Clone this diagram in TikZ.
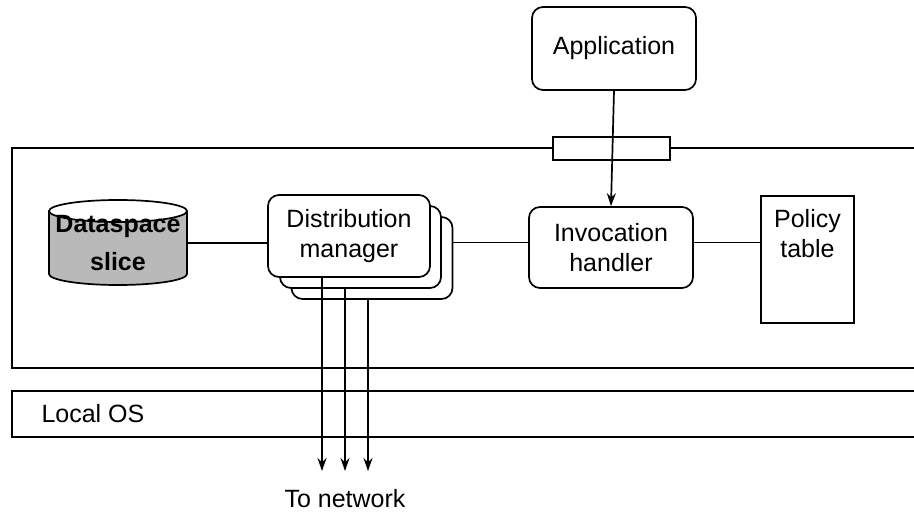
\documentclass[tikz,border=0pt]{standalone}
\usepackage{fontspec}
\setmainfont{Liberation Sans}
\usetikzlibrary{arrows.meta,calc}
\begin{document}
\begin{tikzpicture}[x=1pt,y=1pt,
  every node/.style={font=\fontsize{25}{30}\selectfont},
  ln/.style={line width=1.7pt},
  rbox/.style={draw,line width=1.7pt,rounded corners=11pt,fill=white,align=center},
  arr/.style={line width=1.7pt,-{Stealth[length=13pt,width=9pt]}}]
\useasboundingbox (0,0) rectangle (914,-513);
% outer layer box (open at right)
\draw[ln] (914,-148) -- (12,-148) -- (12,-368) -- (914,-368);
% Local OS layer
\draw[ln] (914,-391) -- (12,-391) -- (12,-437) -- (914,-437);
\node[anchor=west] (os) at (38,-414) {Local OS};
% interface slot
\node[draw,ln,fill=white,minimum width=117,minimum height=23,inner sep=0] (slot) at (611.5,-148.5) {};
% Application
\node[rbox,minimum width=164,minimum height=83] (app) at (614,-48.5) {Application};
% Invocation handler
\node[rbox,minimum width=164,minimum height=81] (ih) at (611,-247.5) {Invocation\\handler};
% Policy table
\node[draw,ln,minimum width=93,minimum height=127] (pt) at (807.5,-259.5) {};
\node[anchor=north,align=center,inner sep=0] (ptt) at ([yshift=-14pt]pt.north) {Policy\\table};
% Distribution manager stack
\node[rbox,minimum width=161,minimum height=82] (dm3) at (372,-258) {};
\node[rbox,minimum width=161,minimum height=82] (dm2) at (360.5,-247) {};
\node[rbox,minimum width=162,minimum height=82] (dm1) at (349,-236) {Distribution\\manager};
% Dataspace slice cylinder
\fill[gray!55] (49,-211) -- (49,-274) arc[start angle=180,end angle=360,x radius=69,y radius=11]
  -- (187,-211) arc[start angle=0,end angle=180,x radius=69,y radius=11] -- cycle;
\filldraw[ln,fill=white] (118,-211) ellipse[x radius=69,y radius=11];
\draw[ln] (49,-211) -- (49,-274) arc[start angle=180,end angle=360,x radius=69,y radius=11] -- (187,-211);
\node[minimum width=138,minimum height=70,align=center,
  font=\fontsize{25}{38}\bfseries\selectfont] (ds) at (118,-243) {Dataspace\\slice};
% connectors
\draw[ln] (ds.east) -- (ds.east -| dm1.west);
\draw[ln] ([yshift=5pt]ih.west) -- ([yshift=5pt]ih.west -| dm3.east);
\draw[ln] ([yshift=5pt]ih.east) -- ([yshift=5pt]ih.east -| pt.west);
\draw[arr] (app.south) -- (ih.north);
% to network
\node (net) at (345,-499) {To network};
\coordinate (t1) at (322,-471);
\coordinate (t2) at (345,-471);
\coordinate (t3) at (368,-471);
\draw[arr] (dm1.south -| t1) -- (t1);
\draw[arr] (dm2.south -| t2) -- (t2);
\draw[arr] (dm3.south -| t3) -- (t3);
\end{tikzpicture}
\end{document}
